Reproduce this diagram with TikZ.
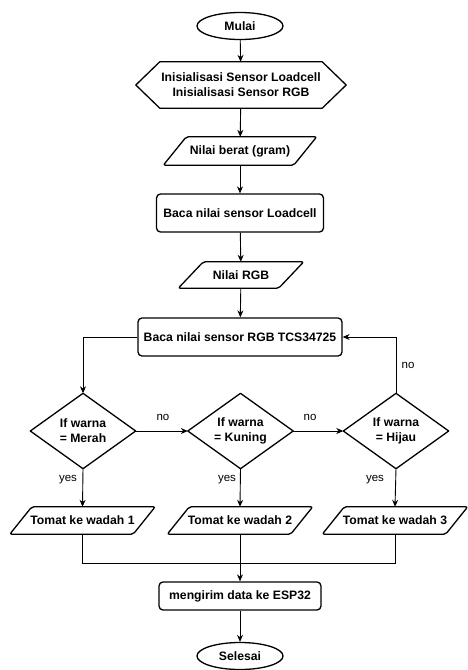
\documentclass[tikz,border=0pt]{standalone}
\usepackage{fontspec}
\setmainfont{Liberation Sans}
\usetikzlibrary{shapes.geometric,arrows.meta,calc}
\tikzset{
  txt/.style={font=\bfseries\fontsize{12.2}{15}\selectfont, align=center, inner sep=0pt},
  outline/.style={draw=black, line width=1.3pt, line join=round},
  term/.style={txt, outline, ellipse, minimum width=86pt, minimum height=27pt},
  proc/.style={txt, outline, rectangle, rounded corners=4pt},
  hole/.style={txt, rectangle, draw=none},
  conn/.style={draw=black, line width=0.9pt, -{Stealth[length=7pt,width=6pt]}},
  plain/.style={draw=black, line width=0.9pt},
  lbl/.style={font=\fontsize{11.5}{13}\selectfont, inner sep=0pt}
}
\begin{document}
\begin{tikzpicture}[x=1pt,y=-1pt]
\useasboundingbox (0,0) rectangle (467,670);

% nodes
\node[term] (mulai) at (240,26) {Mulai};

\node[hole, minimum width=210pt, minimum height=46pt] (init) at (241,85)
  {Inisialisasi Sensor Loadcell\\Inisialisasi Sensor RGB};
\draw[outline] (init.west) -- ($(init.north west)+(24,0)$) -- ($(init.north east)+(-24,0)$)
  -- (init.east) -- ($(init.south east)+(-24,0)$) -- ($(init.south west)+(24,0)$) -- cycle;

\node[hole, minimum width=130pt, minimum height=28pt] (berat) at (240,151) {Nilai berat (gram)};
\draw[outline, rounded corners=2pt] ($(berat.south west)+(-11.5,0)$) -- ($(berat.north west)+(11.5,0)$)
  -- ($(berat.north east)+(11.5,0)$) -- ($(berat.south east)+(-11.5,0)$) -- cycle;

\node[proc, minimum width=167pt, minimum height=38pt] (load) at (240,213) {Baca nilai sensor Loadcell};

\node[hole, minimum width=100pt, minimum height=26pt] (rgbin) at (241,275) {Nilai RGB};
\draw[outline, rounded corners=2pt] ($(rgbin.south west)+(-12.5,0)$) -- ($(rgbin.north west)+(12.5,0)$)
  -- ($(rgbin.north east)+(12.5,0)$) -- ($(rgbin.south east)+(-12.5,0)$) -- cycle;

\node[proc, minimum width=204pt, minimum height=38pt] (rgb) at (240,337) {Baca nilai sensor RGB TCS34725};

% diamonds
\foreach \n/\x/\t in {d1/83/= Merah, d2/240.5/= Kuning, d3/396/= Hijau}{
  \node[hole, minimum width=105pt, minimum height=75pt] (\n) at (\x,431) {If warna\\\t};
  \draw[outline] (\n.west) -- (\n.north) -- (\n.east) -- (\n.south) -- cycle;
}

% output parallelograms
\foreach \n/\x/\k in {t1/82.5/1, t2/240/2, t3/395/3}{
  \node[hole, minimum width=123pt, minimum height=27pt] (\n) at (\x,520.5) {Tomat ke wadah \k};
  \draw[outline, rounded corners=2pt] ($(\n.south west)+(-11,0)$) -- ($(\n.north west)+(11,0)$)
    -- ($(\n.north east)+(11,0)$) -- ($(\n.south east)+(-11,0)$) -- cycle;
}

\node[proc, minimum width=162pt, minimum height=28pt] (kirim) at (240,596) {mengirim data ke ESP32};
\node[term] (selesai) at (240,656) {Selesai};

\coordinate (mL) at (82.5,563);
\coordinate (mR) at (395,563);
\coordinate (mC) at (240,563);

% connectors
\draw[conn] (mulai) -- (init);
\draw[conn] (init) -- (berat);
\draw[conn] (berat) -- (load);
\draw[conn] (load) -- (rgbin);
\draw[conn] (rgbin) -- (rgb);
\draw[conn] (rgb.west) -| (d1.north);
\draw[conn] (d1.east) -- (d2.west);
\draw[conn] (d2.east) -- (d3.west);
\draw[conn] (d3.north) |- (rgb.east);
\draw[conn] (d1.south) -- (t1.north);
\draw[conn] (d2.south) -- (t2.north);
\draw[conn] (d3.south) -- (t3.north);
\draw[plain] (t1.south) -- (mL) -- (mR) -- (t3.south);
\draw[conn] (t2.south) -- (kirim.north);
\draw[conn] (kirim) -- (selesai);

% labels
\node[lbl] (no1) at (163,417) {no};
\node[lbl] (no2) at (310,417) {no};
\node[lbl] (no3) at (408,365) {no};
\node[lbl] (y1) at (68,480) {yes};
\node[lbl] (y2) at (227,480) {yes};
\node[lbl] (y3) at (375,480) {yes};
\end{tikzpicture}
\end{document}
